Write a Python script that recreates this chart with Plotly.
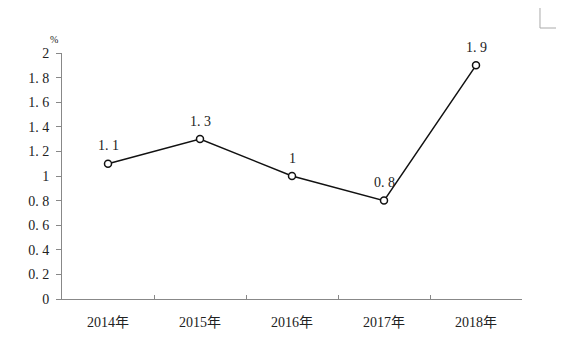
import plotly.graph_objects as go

categories = ["2014年", "2015年", "2016年", "2017年", "2018年"]
values = [1.1, 1.3, 1.0, 0.8, 1.9]
value_labels = ["1. 1", "1. 3", "1", "0. 8", "1. 9"]
y_tickvals = [0, 0.2, 0.4, 0.6, 0.8, 1.0, 1.2, 1.4, 1.6, 1.8, 2.0]
y_ticktext = ["0", "0. 2", "0. 4", "0. 6", "0. 8", "1", "1. 2", "1. 4", "1. 6", "1. 8", "2"]

FONT = "Liberation Serif, Noto Sans CJK SC, serif"
TXT = "#222"

fig = go.Figure()
fig.add_trace(go.Scatter(
    x=categories, y=values, mode="lines+markers",
    line=dict(color="#111", width=1.5),
    marker=dict(symbol="circle", size=7, color="white", line=dict(color="#111", width=1.5)),
    cliponaxis=False,
))

annotations = [
    dict(x=c, y=v, text=t, xref="x", yref="y", showarrow=False,
         yshift=18, font=dict(family=FONT, size=14, color=TXT))
    for c, v, t in zip(categories, values, value_labels)
]
annotations.append(dict(
    text="%", xref="paper", yref="paper", x=0, y=1, xanchor="center", yanchor="middle",
    xshift=-8, yshift=14, showarrow=False, font=dict(family=FONT, size=10, color=TXT),
))

# browser body has an 8px margin, so shift margins accordingly
fig.update_layout(
    width=564, height=359,
    margin=dict(l=54, r=50, t=45, b=68, autoexpand=False),
    paper_bgcolor="white", plot_bgcolor="white",
    showlegend=False,
    font=dict(family=FONT, size=14, color=TXT),
    xaxis=dict(
        type="category", range=[-0.5, 4.5],
        showline=True, linecolor="#888", linewidth=1,
        ticks="inside", tickson="boundaries", ticklen=4, tickcolor="#888",
        showgrid=False, zeroline=False, automargin=False,
        ticklabelstandoff=10,
        tickfont=dict(family=FONT, size=14, color=TXT),
    ),
    yaxis=dict(
        range=[0, 2],
        tickvals=y_tickvals, ticktext=y_ticktext,
        showline=True, linecolor="#888", linewidth=1,
        ticks="outside", ticklen=5, tickcolor="#888",
        showgrid=False, zeroline=False, automargin=False,
        ticklabelstandoff=4,
        tickfont=dict(family=FONT, size=14, color=TXT),
    ),
    annotations=annotations,
    shapes=[
        dict(type="line", xref="paper", yref="paper", x0=1.0391, x1=1.0391, y0=1.1016, y1=1.1951,
             line=dict(color="#aaa", width=1)),
        dict(type="line", xref="paper", yref="paper", x0=1.0391, x1=1.0913, y0=1.1016, y1=1.1016,
             line=dict(color="#aaa", width=1)),
    ],
)

fig.write_html("out.html")
